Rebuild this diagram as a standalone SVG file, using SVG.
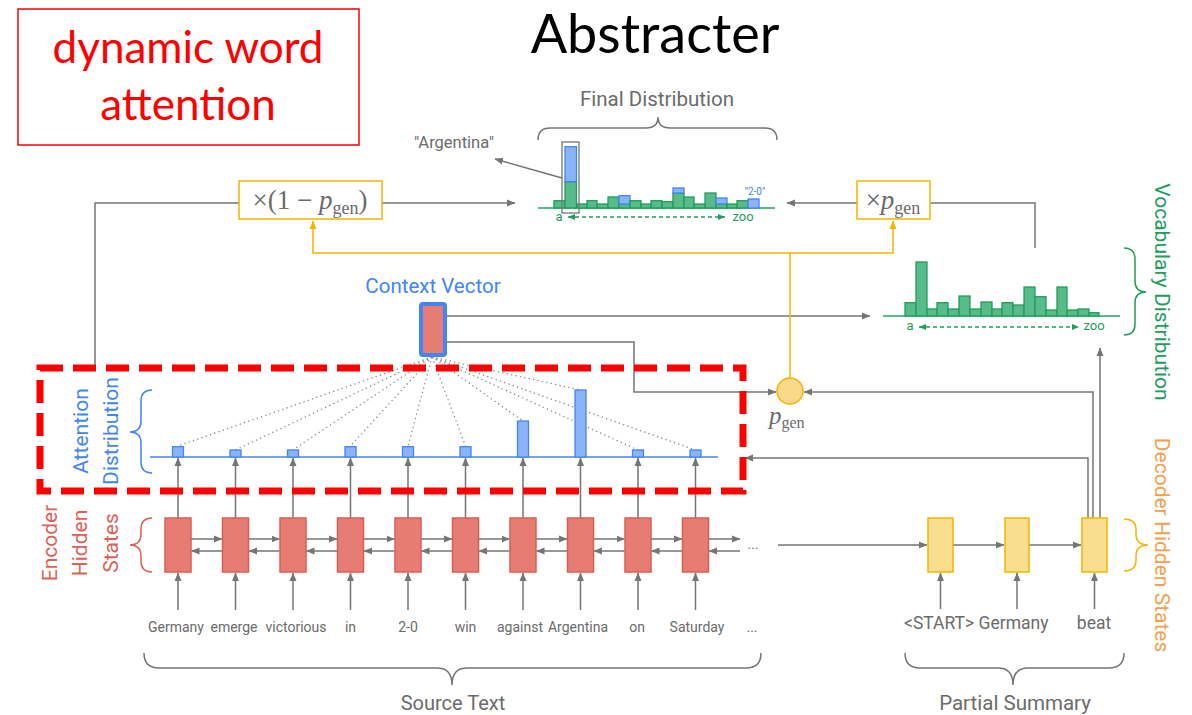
<svg xmlns="http://www.w3.org/2000/svg" width="1192" height="715" viewBox="0 0 1192 715">
<defs>
<marker id="ag" markerUnits="userSpaceOnUse" markerWidth="9" markerHeight="8" refX="8" refY="4" orient="auto"><path d="M0,0.5 L8.5,4 L0,7.5 z" fill="#757575"/></marker>
<marker id="ay" markerUnits="userSpaceOnUse" markerWidth="9" markerHeight="8" refX="8" refY="4" orient="auto"><path d="M0,0.5 L8.5,4 L0,7.5 z" fill="#f4b400"/></marker>
<marker id="agr" markerUnits="userSpaceOnUse" markerWidth="8" markerHeight="8" refX="7" refY="4" orient="auto-start-reverse"><path d="M0,1 L7,4 L0,7 z" fill="#1e9e5a"/></marker>
<style>
.ln{fill:none;stroke:#757575;stroke-width:1.5}
.yl{fill:none;stroke:#f4b400;stroke-width:1.5}
.dot{fill:none;stroke:#8a8a8a;stroke-width:1.3;stroke-dasharray:1.3 3.2}
.enc{fill:#e67c73;stroke:#dd5d52;stroke-width:1.5}
.dec{fill:#fade8f;stroke:#f4b400;stroke-width:1.5}
.gb{fill:#57bb8a;stroke:#1e9e5a;stroke-width:1.3}
.bb{fill:#8ab4f8;stroke:#4285f4;stroke-width:1.3}
.gt{font-family:Roboto,"Liberation Sans",sans-serif;fill:#6b6b6b}
.w{font-family:Roboto,"Liberation Sans",sans-serif;fill:#6b6b6b;font-size:14px;text-anchor:middle}
.ser{font-family:"Liberation Serif","DejaVu Serif",serif;fill:#6b6b6b}
.br{fill:none;stroke-width:1.5}
</style>
</defs>

<g id="annotation-box">
<rect x="18" y="9" width="341" height="136" fill="none" stroke="#ff0000" stroke-width="1.5"/>
<text x="188" y="63" font-family="Lato,'Liberation Sans',sans-serif" font-size="44" fill="#ff0000" text-anchor="middle">dynamic word</text>
<text x="188" y="120" font-family="Lato,'Liberation Sans',sans-serif" font-size="44" fill="#ff0000" text-anchor="middle">attention</text>
</g>
<g id="title"><text x="655" y="53" font-family="Lato,'Liberation Sans',sans-serif" font-size="54" fill="#000" text-anchor="middle">Abstracter</text></g>

<g id="connectors">
<polyline class="ln" points="95,368 95,203 239,203"/>
<line class="ln" x1="382" y1="203" x2="515" y2="203" marker-end="url(#ag)"/>
<line class="ln" x1="857" y1="203" x2="787" y2="203" marker-end="url(#ag)"/>
<polyline class="ln" points="930,203 1035,203 1035,248"/>
<line class="ln" x1="562" y1="178" x2="495" y2="159" marker-end="url(#ag)"/>
<line class="ln" x1="447" y1="316" x2="870" y2="316" marker-end="url(#ag)"/>
<polyline class="ln" points="447,342 634,342 634,392 776,392" marker-end="url(#ag)"/>
<polyline class="ln" points="1093,518 1093,392 804,392" marker-end="url(#ag)"/>
<polyline class="ln" points="1088,518 1088,458 745,458" marker-end="url(#ag)"/>
<line class="ln" x1="1100" y1="518" x2="1100" y2="348" marker-end="url(#ag)"/>
<polyline class="yl" points="790,378 790,253 313,253 313,221" marker-end="url(#ay)"/>
<polyline class="yl" points="790,253 893,253 893,221" marker-end="url(#ay)"/>
<g>
<line class="dot" x1="432" y1="357" x2="178" y2="446"/>
<line class="dot" x1="432" y1="357" x2="235.5" y2="450"/>
<line class="dot" x1="432" y1="357" x2="293" y2="450"/>
<line class="dot" x1="432" y1="357" x2="350.5" y2="446"/>
<line class="dot" x1="432" y1="357" x2="408" y2="446"/>
<line class="dot" x1="432" y1="357" x2="465.5" y2="446"/>
<line class="dot" x1="432" y1="357" x2="523" y2="421"/>
<line class="dot" x1="432" y1="357" x2="580.5" y2="390"/>
<line class="dot" x1="432" y1="357" x2="638" y2="450"/>
<line class="dot" x1="432" y1="357" x2="695.5" y2="450"/>
</g>
<g>
<line class="ln" x1="178" y1="518" x2="178" y2="458" marker-end="url(#ag)"/>
<line class="ln" x1="235.5" y1="518" x2="235.5" y2="458" marker-end="url(#ag)"/>
<line class="ln" x1="293" y1="518" x2="293" y2="458" marker-end="url(#ag)"/>
<line class="ln" x1="350.5" y1="518" x2="350.5" y2="458" marker-end="url(#ag)"/>
<line class="ln" x1="408" y1="518" x2="408" y2="458" marker-end="url(#ag)"/>
<line class="ln" x1="465.5" y1="518" x2="465.5" y2="458" marker-end="url(#ag)"/>
<line class="ln" x1="523" y1="518" x2="523" y2="458" marker-end="url(#ag)"/>
<line class="ln" x1="580.5" y1="518" x2="580.5" y2="458" marker-end="url(#ag)"/>
<line class="ln" x1="638" y1="518" x2="638" y2="458" marker-end="url(#ag)"/>
<line class="ln" x1="695.5" y1="518" x2="695.5" y2="458" marker-end="url(#ag)"/>
<line class="ln" x1="178" y1="610" x2="178" y2="573" marker-end="url(#ag)"/>
<line class="ln" x1="235.5" y1="610" x2="235.5" y2="573" marker-end="url(#ag)"/>
<line class="ln" x1="293" y1="610" x2="293" y2="573" marker-end="url(#ag)"/>
<line class="ln" x1="350.5" y1="610" x2="350.5" y2="573" marker-end="url(#ag)"/>
<line class="ln" x1="408" y1="610" x2="408" y2="573" marker-end="url(#ag)"/>
<line class="ln" x1="465.5" y1="610" x2="465.5" y2="573" marker-end="url(#ag)"/>
<line class="ln" x1="523" y1="610" x2="523" y2="573" marker-end="url(#ag)"/>
<line class="ln" x1="580.5" y1="610" x2="580.5" y2="573" marker-end="url(#ag)"/>
<line class="ln" x1="638" y1="610" x2="638" y2="573" marker-end="url(#ag)"/>
<line class="ln" x1="695.5" y1="610" x2="695.5" y2="573" marker-end="url(#ag)"/>
</g>
<g>
<line class="ln" x1="191" y1="539" x2="222" y2="539" marker-end="url(#ag)"/>
<line class="ln" x1="248.5" y1="539" x2="279.5" y2="539" marker-end="url(#ag)"/>
<line class="ln" x1="306" y1="539" x2="337" y2="539" marker-end="url(#ag)"/>
<line class="ln" x1="363.5" y1="539" x2="394.5" y2="539" marker-end="url(#ag)"/>
<line class="ln" x1="421" y1="539" x2="452" y2="539" marker-end="url(#ag)"/>
<line class="ln" x1="478.5" y1="539" x2="509.5" y2="539" marker-end="url(#ag)"/>
<line class="ln" x1="536" y1="539" x2="567" y2="539" marker-end="url(#ag)"/>
<line class="ln" x1="593.5" y1="539" x2="624.5" y2="539" marker-end="url(#ag)"/>
<line class="ln" x1="651" y1="539" x2="682" y2="539" marker-end="url(#ag)"/>
<line class="ln" x1="708.5" y1="539" x2="740" y2="539" marker-end="url(#ag)"/>
<line class="ln" x1="222" y1="551" x2="191.5" y2="551" marker-end="url(#ag)"/>
<line class="ln" x1="279.5" y1="551" x2="249" y2="551" marker-end="url(#ag)"/>
<line class="ln" x1="337" y1="551" x2="306.5" y2="551" marker-end="url(#ag)"/>
<line class="ln" x1="394.5" y1="551" x2="364" y2="551" marker-end="url(#ag)"/>
<line class="ln" x1="452" y1="551" x2="421.5" y2="551" marker-end="url(#ag)"/>
<line class="ln" x1="509.5" y1="551" x2="479" y2="551" marker-end="url(#ag)"/>
<line class="ln" x1="567" y1="551" x2="536.5" y2="551" marker-end="url(#ag)"/>
<line class="ln" x1="624.5" y1="551" x2="594" y2="551" marker-end="url(#ag)"/>
<line class="ln" x1="682" y1="551" x2="651.5" y2="551" marker-end="url(#ag)"/>
<line class="ln" x1="740" y1="551" x2="709" y2="551" marker-end="url(#ag)"/>
</g>
<g>
<line class="ln" x1="778" y1="545" x2="927" y2="545" marker-end="url(#ag)"/>
<line class="ln" x1="953" y1="545" x2="1004" y2="545" marker-end="url(#ag)"/>
<line class="ln" x1="1029" y1="545" x2="1081" y2="545" marker-end="url(#ag)"/>
<line class="ln" x1="940.5" y1="609" x2="940.5" y2="573" marker-end="url(#ag)"/>
<line class="ln" x1="1017" y1="609" x2="1017" y2="573" marker-end="url(#ag)"/>
<line class="ln" x1="1094.5" y1="609" x2="1094.5" y2="573" marker-end="url(#ag)"/>
</g>
</g>

<g id="final-distribution">
<text class="gt" x="657" y="106" font-size="20.5" text-anchor="middle">Final Distribution</text>
<path class="br" stroke="#757575" d="M538,140 Q538,128 550,128 L646,128 Q658,128 658,117 Q658,128 670,128 L765,128 Q777,128 777,140"/>
<line x1="538" y1="208" x2="775" y2="208" stroke="#57bb8a" stroke-width="2"/>
<rect class="gb" x="554" y="200.7" width="10.8" height="7.3"/>
<rect class="gb" x="565" y="181.7" width="11.5" height="26.3"/>
<rect class="bb" x="565" y="146.7" width="11.5" height="35"/>
<rect class="gb" x="577" y="204" width="10" height="4"/>
<rect class="gb" x="587" y="200.7" width="10" height="7.3"/>
<rect class="gb" x="597" y="204" width="11" height="4"/>
<rect class="gb" x="608" y="197" width="11" height="11"/>
<rect class="gb" x="619" y="204" width="11" height="4"/>
<rect class="bb" x="619" y="195.7" width="11" height="8.3"/>
<rect class="gb" x="630" y="200.7" width="11" height="7.3"/>
<rect class="gb" x="641" y="204" width="10" height="4"/>
<rect class="gb" x="651" y="200.7" width="11" height="7.3"/>
<rect class="gb" x="662" y="201.7" width="11" height="6.3"/>
<rect class="gb" x="673" y="193" width="11" height="15"/>
<rect class="bb" x="673" y="188" width="11" height="5"/>
<rect class="gb" x="684" y="197" width="10" height="11"/>
<rect class="gb" x="694" y="204" width="11" height="4"/>
<rect class="gb" x="705" y="193" width="11" height="15"/>
<rect class="gb" x="716" y="204" width="11" height="4"/>
<rect class="bb" x="716" y="198" width="11" height="6"/>
<rect class="gb" x="727" y="204" width="10" height="4"/>
<rect class="gb" x="737" y="200.7" width="11" height="7.3"/>
<rect class="bb" x="748" y="199" width="11" height="9"/>
<rect x="562" y="142" width="17" height="71" fill="none" stroke="#757575" stroke-width="1.3"/>
<text x="755" y="195" font-family="Roboto,'Liberation Sans',sans-serif" font-size="10" fill="#4285f4" text-anchor="middle">"2-0"</text>
<text x="559" y="221" font-family="Roboto,'Liberation Sans',sans-serif" font-size="13" fill="#1e9e5a" text-anchor="middle">a</text>
<line x1="568" y1="217" x2="725" y2="217" stroke="#1e9e5a" stroke-width="1.3" stroke-dasharray="4 3" marker-start="url(#agr)" marker-end="url(#agr)"/>
<text x="743" y="221" font-family="Roboto,'Liberation Sans',sans-serif" font-size="13" fill="#1e9e5a" text-anchor="middle">zoo</text>
<text class="gt" x="454" y="148" font-size="16.5" text-anchor="middle">"Argentina"</text>
</g>

<g id="mult-1-minus-pgen">
<rect x="239" y="181" width="143" height="38" fill="#fff" stroke="#f4b400" stroke-width="1.5"/>
<text class="ser" x="310" y="209" font-size="27" text-anchor="middle">×(1 − <tspan font-style="italic">p</tspan><tspan font-size="18" dy="5">gen</tspan><tspan dy="-5">)</tspan></text>
</g>
<g id="mult-pgen">
<rect x="857" y="181" width="73" height="38" fill="#fff" stroke="#f4b400" stroke-width="1.5"/>
<text class="ser" x="893" y="209" font-size="27" text-anchor="middle">×<tspan font-style="italic">p</tspan><tspan font-size="18" dy="5">gen</tspan></text>
</g>

<g id="vocabulary-distribution">
<line x1="883" y1="316" x2="1120" y2="316" stroke="#57bb8a" stroke-width="2"/>
<rect class="gb" x="905" y="302.7" width="11" height="13.3"/>
<rect class="gb" x="916" y="262" width="11" height="54"/>
<rect class="gb" x="927" y="309" width="10" height="7"/>
<rect class="gb" x="937" y="302.7" width="11" height="13.3"/>
<rect class="gb" x="948" y="309" width="11" height="7"/>
<rect class="gb" x="959" y="296" width="11" height="20"/>
<rect class="gb" x="970" y="309" width="11" height="7"/>
<rect class="gb" x="981" y="302" width="11" height="14"/>
<rect class="gb" x="992" y="309" width="10" height="7"/>
<rect class="gb" x="1002" y="302.7" width="11" height="13.3"/>
<rect class="gb" x="1013" y="305" width="11" height="11"/>
<rect class="gb" x="1024" y="287" width="11" height="29"/>
<rect class="gb" x="1035" y="296.7" width="11" height="19.3"/>
<rect class="gb" x="1046" y="310" width="11" height="6"/>
<rect class="gb" x="1057" y="287" width="10" height="29"/>
<rect class="gb" x="1067" y="310" width="11" height="6"/>
<rect class="gb" x="1078" y="309" width="11" height="7"/>
<rect class="gb" x="1089" y="312.7" width="10" height="3.3"/>
<text x="910" y="330" font-family="Roboto,'Liberation Sans',sans-serif" font-size="13" fill="#1e9e5a" text-anchor="middle">a</text>
<line x1="919" y1="327" x2="1079" y2="327" stroke="#1e9e5a" stroke-width="1.3" stroke-dasharray="4 3" marker-start="url(#agr)" marker-end="url(#agr)"/>
<text x="1094" y="330" font-family="Roboto,'Liberation Sans',sans-serif" font-size="13" fill="#1e9e5a" text-anchor="middle">zoo</text>
<path class="br" stroke="#1e9e5a" d="M1124,248 Q1135,248 1135,259 L1135,281 Q1135,292 1146,292 Q1135,292 1135,303 L1135,324 Q1135,335 1124,335"/>
<text transform="translate(1155,292) rotate(90)" font-family="Roboto,'Liberation Sans',sans-serif" font-size="21" fill="#1e9e5a" text-anchor="middle">Vocabulary Distribution</text>
</g>

<g id="context-vector">
<text x="433" y="293" font-family="Roboto,'Liberation Sans',sans-serif" font-size="20.5" fill="#4285f4" text-anchor="middle">Context Vector</text>
<rect x="421" y="304" width="24" height="51" rx="2" fill="#e67c73" stroke="#4285f4" stroke-width="4"/>
</g>

<g id="pgen">
<circle cx="790" cy="391" r="13" fill="#fad98a" stroke="#f4b400" stroke-width="1.5"/>
<text class="ser" x="769" y="424" font-size="25" font-style="italic">p<tspan font-style="normal" font-size="16" dy="4">gen</tspan></text>
</g>

<g id="attention-distribution">
<line x1="150" y1="457" x2="718" y2="457" stroke="#4285f4" stroke-width="1.5"/>
<rect class="bb" x="172.5" y="446.7" width="11" height="10.3"/>
<rect class="bb" x="230" y="450" width="11" height="7"/>
<rect class="bb" x="287.5" y="450" width="11" height="7"/>
<rect class="bb" x="345" y="446.7" width="11" height="10.3"/>
<rect class="bb" x="402.5" y="446.7" width="11" height="10.3"/>
<rect class="bb" x="460" y="446.7" width="11" height="10.3"/>
<rect class="bb" x="517.5" y="421" width="11" height="36"/>
<rect class="bb" x="575" y="390" width="11" height="67"/>
<rect class="bb" x="632.5" y="450" width="11" height="7"/>
<rect class="bb" x="690" y="450" width="11" height="7"/>
<path class="br" stroke="#4285f4" d="M152,390 Q141,390 141,401 L141,421 Q141,432 130,432 Q141,432 141,443 L141,462 Q141,473 152,473"/>
<text transform="translate(88,431) rotate(-90)" font-family="Roboto,'Liberation Sans',sans-serif" font-size="21" fill="#4285f4" text-anchor="middle">Attention</text>
<text transform="translate(118,431) rotate(-90)" font-family="Roboto,'Liberation Sans',sans-serif" font-size="21" fill="#4285f4" text-anchor="middle">Distribution</text>
</g>

<g id="encoder">
<rect class="enc" x="165" y="518" width="26" height="54"/>
<rect class="enc" x="222.5" y="518" width="26" height="54"/>
<rect class="enc" x="280" y="518" width="26" height="54"/>
<rect class="enc" x="337.5" y="518" width="26" height="54"/>
<rect class="enc" x="395" y="518" width="26" height="54"/>
<rect class="enc" x="452.5" y="518" width="26" height="54"/>
<rect class="enc" x="510" y="518" width="26" height="54"/>
<rect class="enc" x="567.5" y="518" width="26" height="54"/>
<rect class="enc" x="625" y="518" width="26" height="54"/>
<rect class="enc" x="682.5" y="518" width="26" height="54"/>
<text class="gt" x="753" y="549" font-size="14" text-anchor="middle">...</text>
<path class="br" stroke="#e06055" d="M152,518 Q141,518 141,529 L141,534 Q141,545 130,545 Q141,545 141,556 L141,561 Q141,572 152,572"/>
<text transform="translate(57,543) rotate(-90)" font-family="Roboto,'Liberation Sans',sans-serif" font-size="21" fill="#e06055" text-anchor="middle">Encoder</text>
<text transform="translate(87,543) rotate(-90)" font-family="Roboto,'Liberation Sans',sans-serif" font-size="21" fill="#e06055" text-anchor="middle">Hidden</text>
<text transform="translate(118,543) rotate(-90)" font-family="Roboto,'Liberation Sans',sans-serif" font-size="21" fill="#e06055" text-anchor="middle">States</text>
</g>

<g id="source-text">
<text class="w" x="176" y="632">Germany</text>
<text class="w" x="234" y="632">emerge</text>
<text class="w" x="296" y="632">victorious</text>
<text class="w" x="350.5" y="632">in</text>
<text class="w" x="408" y="632">2-0</text>
<text class="w" x="465.5" y="632">win</text>
<text class="w" x="520" y="632">against</text>
<text class="w" x="578" y="632">Argentina</text>
<text class="w" x="637" y="632">on</text>
<text class="w" x="697" y="632">Saturday</text>
<text class="w" x="752" y="632">...</text>
<path class="br" stroke="#757575" d="M144,653 Q144,668 159,668 L437,668 Q452,668 452,685 Q452,668 467,668 L746,668 Q761,668 761,653"/>
<text class="gt" x="453" y="710" font-size="20" text-anchor="middle">Source Text</text>
</g>

<g id="decoder">
<rect class="dec" x="928" y="518" width="25" height="54"/>
<rect class="dec" x="1005" y="518" width="24" height="54"/>
<rect class="dec" x="1082" y="518" width="25" height="54"/>
<path class="br" stroke="#f4b400" d="M1124,519 Q1136,519 1136,530 L1136,534 Q1136,545 1148,545 Q1136,545 1136,556 L1136,560 Q1136,571 1124,571"/>
<text transform="translate(1155,545) rotate(90)" font-family="Roboto,'Liberation Sans',sans-serif" font-size="21" fill="#f6a04d" text-anchor="middle">Decoder Hidden States</text>
</g>

<g id="partial-summary">
<text class="gt" x="904" y="629" font-size="17.5">&lt;START&gt; Germany</text>
<text class="gt" x="1094" y="629" font-size="17.5" text-anchor="middle">beat</text>
<path class="br" stroke="#757575" d="M905,653 Q905,668 920,668 L998,668 Q1013,668 1013,685 Q1013,668 1028,668 L1109,668 Q1124,668 1124,653"/>
<text class="gt" x="1015" y="710" font-size="20.5" text-anchor="middle">Partial Summary</text>
</g>

<g id="highlight-box">
<rect x="40" y="368" width="703" height="123" fill="none" stroke="#ff0000" stroke-width="7" stroke-dasharray="23 10"/>
</g>
</svg>
